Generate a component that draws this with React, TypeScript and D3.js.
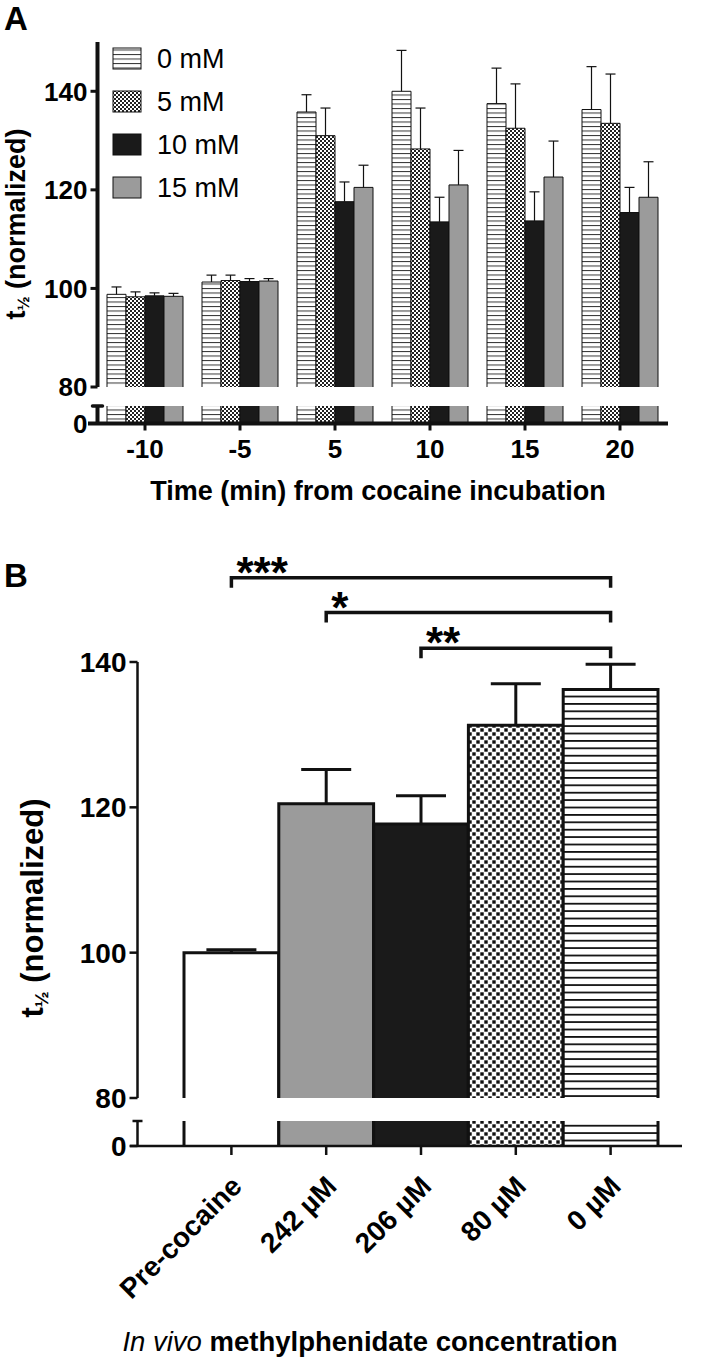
import React from "react";
import * as d3 from "d3";

// ---------- Panel A data ----------
const timeLabels = ["-10", "-5", "5", "10", "15", "20"];
const seriesNames = ["0 mM", "5 mM", "10 mM", "15 mM"];
const mean0mM = [98.8, 101.3, 135.8, 140.0, 137.5, 136.3];
const sem0mM = [1.5, 1.4, 3.5, 8.3, 7.2, 8.7];
const mean5mM = [98.3, 101.6, 131.0, 128.3, 132.5, 133.5];
const sem5mM = [1.0, 1.1, 5.6, 8.3, 9.0, 10.0];
const mean10mM = [98.5, 101.4, 117.6, 113.5, 113.7, 115.4];
const sem10mM = [0.6, 0.6, 4.0, 5.0, 5.9, 5.1];
const mean15mM = [98.4, 101.5, 120.5, 121.0, 122.6, 118.5];
const sem15mM = [0.6, 0.5, 4.5, 7.0, 7.3, 7.2];
const yTicksA = [80, 100, 120, 140];

// ---------- Panel B data ----------
const bCategories = ["Pre-cocaine", "242 µM", "206 µM", "80 µM", "0 µM"];
const bMeans = [100, 120.5, 117.7, 131.3, 136.2];
const bSems = [0.4, 4.7, 3.9, 5.7, 3.5];
const yTicksB = [80, 100, 120, 140];
const sigFrom = ["Pre-cocaine", "242 µM", "206 µM"];
const sigTo = ["0 µM", "0 µM", "0 µM"];
const sigLabels = ["***", "*", "**"];
const sigLevels = [151.6, 146.8, 141.9];

const FONT = "'Liberation Sans', Arial, Helvetica, sans-serif";

export default function App() {
  const seriesMeans = [mean0mM, mean5mM, mean10mM, mean15mM];
  const seriesSems = [sem0mM, sem5mM, sem10mM, sem15mM];
  const fillsA = ["url(#hA)", "url(#cA)", "#1a1a1a", "#9b9b9b"];
  const fillsB = ["#ffffff", "#9b9b9b", "#1a1a1a", "url(#cB)", "url(#hB)"];

  // Panel A scales
  const xA = d3.scalePoint<string>().domain(timeLabels).range([145, 620]);
  const xSub = d3.scaleBand<string>().domain(seriesNames).range([-38, 38]).padding(0);
  const yA = d3.scaleLinear().domain([80, 150]).range([387, 42]);
  const yALow = d3.scaleLinear().domain([0, 4]).range([423.5, 406]);
  const axAx = 97.5;

  // Panel B scales
  const xB = d3.scaleBand<string>().domain(bCategories).range([184, 658]).padding(0);
  const yB = d3.scaleLinear().domain([80, 140]).range([1098, 662]);
  const yBLow = d3.scaleLinear().domain([0, 4]).range([1146, 1121]);
  const axBx = 137.5;

  const bw = xSub.bandwidth();

  return (
    <svg width={705} height={1359} style={{ position: "absolute", left: 0, top: 0, background: "#fff" }} fontFamily={FONT}>
      <defs>
        <pattern id="hA" patternUnits="userSpaceOnUse" width={8} height={4.5}>
          <rect width={8} height={4.5} fill="#fff" />
          <rect y={0} width={8} height={1} fill="#333" />
        </pattern>
        <pattern id="cA" patternUnits="userSpaceOnUse" width={4} height={4}>
          <rect width={4} height={4} fill="#fff" />
          <rect x={0} y={0} width={2} height={2} fill="#222" />
          <rect x={2} y={2} width={2} height={2} fill="#222" />
        </pattern>
        <pattern id="hB" patternUnits="userSpaceOnUse" width={10} height={7.4}>
          <rect width={10} height={7.4} fill="#fff" />
          <rect y={0} width={10} height={1.8} fill="#111" />
        </pattern>
        <pattern id="cB" patternUnits="userSpaceOnUse" width={8} height={8}>
          <rect width={8} height={8} fill="#fff" />
          <rect x={0.3} y={0.3} width={3.4} height={3.4} fill="#111" />
          <rect x={4.3} y={4.3} width={3.4} height={3.4} fill="#111" />
        </pattern>
      </defs>

      {/* ================= PANEL A ================= */}
      <text x={4} y={30} fontSize={33} fontWeight="bold">A</text>

      {/* bars */}
      {timeLabels.map((t, gi) =>
        seriesNames.map((s, si) => {
          const x = (xA(t) as number) + (xSub(s) as number);
          const v = seriesMeans[si][gi];
          const e = seriesSems[si][gi];
          const top = yA(v);
          const bottom = yA(80);
          const cx = x + bw / 2;
          return (
            <g key={t + s}>
              <rect x={x} y={top} width={bw} height={bottom - top} fill={fillsA[si]} />
              <path d={`M${x},${bottom}V${top}H${x + bw}V${bottom}`} fill="none" stroke="#111" strokeWidth={1} />
              <rect x={x} y={yALow(4)} width={bw} height={yALow(0) - yALow(4)} fill={fillsA[si]} />
              <path d={`M${x},${yALow(0)}V${yALow(4)}M${x + bw},${yALow(4)}V${yALow(0)}`} stroke="#111" strokeWidth={1} />
              <line x1={cx} x2={cx} y1={top} y2={yA(v + e)} stroke="#111" strokeWidth={1.2} />
              <line x1={cx - 5} x2={cx + 5} y1={yA(v + e)} y2={yA(v + e)} stroke="#111" strokeWidth={1.2} />
            </g>
          );
        })
      )}

      {/* y axis A upper */}
      <line x1={axAx} x2={axAx} y1={yA(150)} y2={yA(80)} stroke="#111" strokeWidth={4} />
      {yTicksA.map((t) => (
        <g key={t}>
          <line x1={axAx - 7} x2={axAx} y1={yA(t)} y2={yA(t)} stroke="#111" strokeWidth={3} />
          <text x={axAx - 10} y={yA(t)} dy="0.36em" textAnchor="end" fontSize={26} fontWeight="bold">{t}</text>
        </g>
      ))}
      {/* y axis A lower */}
      <line x1={axAx} x2={axAx} y1={yALow(4)} y2={yALow(0)} stroke="#111" strokeWidth={4} />
      <line x1={axAx - 5} x2={axAx + 5} y1={yALow(4)} y2={yALow(4)} stroke="#111" strokeWidth={3.5} strokeLinecap="round" />
      <line x1={axAx - 7} x2={axAx} y1={yALow(0)} y2={yALow(0)} stroke="#111" strokeWidth={3} />
      <text x={axAx - 10} y={yALow(0)} dy="0.36em" textAnchor="end" fontSize={26} fontWeight="bold">0</text>

      {/* x axis A */}
      <line x1={88} x2={668} y1={yALow(0)} y2={yALow(0)} stroke="#111" strokeWidth={4} />
      {timeLabels.map((t) => (
        <g key={t}>
          <line x1={xA(t)} x2={xA(t)} y1={yALow(0)} y2={yALow(0) + 7} stroke="#111" strokeWidth={3} />
          <text x={xA(t)} y={458} textAnchor="middle" fontSize={26} fontWeight="bold">{t}</text>
        </g>
      ))}
      <text x={378} y={500} textAnchor="middle" fontSize={27} fontWeight="bold">Time (min) from cocaine incubation</text>

      {/* y label A */}
      <text transform="translate(25,224) rotate(-90)" textAnchor="middle" fontSize={27} fontWeight="bold">
        t<tspan fontSize={17} dy={4}>½</tspan><tspan dy={-4}> (normalized)</tspan>
      </text>

      {/* legend A */}
      {seriesNames.map((s, i) => {
        const y0 = 48 + i * 43;
        return (
          <g key={s}>
            <rect x={113} y={y0} width={28} height={21} fill={fillsA[i]} stroke="#111" strokeWidth={1} />
            <text x={157} y={y0 + 20} fontSize={27}>{s}</text>
          </g>
        );
      })}

      {/* ================= PANEL B ================= */}
      <text x={4} y={587} fontSize={33} fontWeight="bold">B</text>

      {/* bars B */}
      {bCategories.map((c, i) => {
        const x = xB(c) as number;
        const w = xB.bandwidth();
        const v = bMeans[i];
        const e = bSems[i];
        const top = yB(v);
        const bottom = yB(80);
        const cx = x + w / 2;
        return (
          <g key={c}>
            <rect x={x} y={top} width={w} height={bottom - top} fill={fillsB[i]} />
            <path d={`M${x},${bottom}V${top}H${x + w}V${bottom}`} fill="none" stroke="#111" strokeWidth={3} />
            <rect x={x} y={yBLow(4)} width={w} height={yBLow(0) - yBLow(4)} fill={fillsB[i]} />
            <path d={`M${x},${yBLow(0)}V${yBLow(4)}M${x + w},${yBLow(4)}V${yBLow(0)}`} stroke="#111" strokeWidth={3} />
            <line x1={cx} x2={cx} y1={top} y2={yB(v + e)} stroke="#111" strokeWidth={3} />
            <line x1={cx - 25} x2={cx + 25} y1={yB(v + e)} y2={yB(v + e)} stroke="#111" strokeWidth={3} />
          </g>
        );
      })}

      {/* y axis B */}
      <line x1={axBx} x2={axBx} y1={yB(140)} y2={yB(80)} stroke="#111" strokeWidth={2.5} />
      {yTicksB.map((t) => (
        <g key={t}>
          <line x1={axBx - 8} x2={axBx} y1={yB(t)} y2={yB(t)} stroke="#111" strokeWidth={2.5} />
          <text x={axBx - 11} y={yB(t)} dy="0.36em" textAnchor="end" fontSize={28} fontWeight="bold">{t}</text>
        </g>
      ))}
      <line x1={axBx} x2={axBx} y1={yBLow(4)} y2={yBLow(0)} stroke="#111" strokeWidth={2.5} />
      <line x1={axBx - 5} x2={axBx + 5} y1={yBLow(4)} y2={yBLow(4)} stroke="#111" strokeWidth={2.5} />
      <line x1={axBx - 8} x2={axBx} y1={yBLow(0)} y2={yBLow(0)} stroke="#111" strokeWidth={2.5} />
      <text x={axBx - 11} y={yBLow(0)} dy="0.36em" textAnchor="end" fontSize={28} fontWeight="bold">0</text>

      {/* x axis B */}
      <line x1={130} x2={682} y1={yBLow(0)} y2={yBLow(0)} stroke="#111" strokeWidth={2.5} />
      {bCategories.map((c) => {
        const cx = (xB(c) as number) + xB.bandwidth() / 2;
        return (
          <g key={c}>
            <line x1={cx} x2={cx} y1={yBLow(0)} y2={yBLow(0) + 9} stroke="#111" strokeWidth={2.5} />
            <text transform={`translate(${cx + 12},${yBLow(0) + 42}) rotate(-45)`} textAnchor="end" fontSize={28} fontWeight="bold">{c}</text>
          </g>
        );
      })}
      <text x={370} y={1351} textAnchor="middle" fontSize={27.5} fontWeight="bold">
        <tspan fontStyle="italic" fontWeight="normal">In vivo</tspan> methylphenidate concentration
      </text>

      {/* y label B */}
      <text transform="translate(43,908) rotate(-90)" textAnchor="middle" fontSize={31} fontWeight="bold">
        t<tspan fontSize={19} dy={5}>½</tspan><tspan dy={-5}> (normalized)</tspan>
      </text>

      {/* significance brackets */}
      {sigLabels.map((lab, i) => {
        const x1 = (xB(sigFrom[i]) as number) + xB.bandwidth() / 2;
        const x2 = (xB(sigTo[i]) as number) + xB.bandwidth() / 2;
        const y = yB(sigLevels[i]);
        return (
          <g key={lab}>
            <path d={`M${x1},${y + 10}V${y}H${x2}V${y + 10}`} fill="none" stroke="#111" strokeWidth={3.5} />
            <text x={x1 + 5} y={y + 10} fontSize={44} fontWeight="bold">{lab}</text>
          </g>
        );
      })}
    </svg>
  );
}
